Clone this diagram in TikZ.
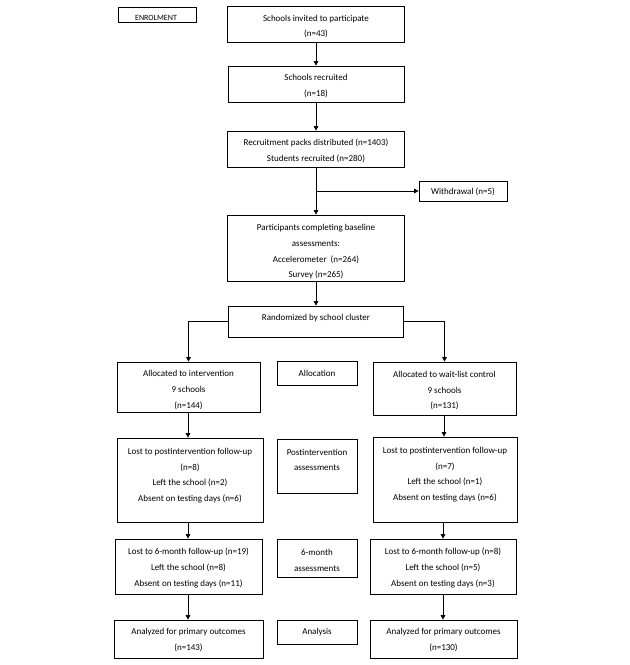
\documentclass[tikz,border=0pt]{standalone}
\usepackage{fontspec}
\setmainfont{Carlito}
\usetikzlibrary{arrows.meta}
\begin{document}
\begin{tikzpicture}[x=1pt,y=-1pt,
  box/.style={draw, line width=0.7pt, inner sep=0pt},
  txt/.style={align=center, inner sep=0pt, font=\fontsize{9}{15.7}\selectfont},
  arr/.style={line width=0.7pt, -{Triangle[length=4.5pt,width=4.5pt]}},
  ln/.style={line width=0.7pt}]
\useasboundingbox (0,0) rectangle (630,665);
\fill[white] (0,0) rectangle (630,665);

% ---- boxes ----
\node[box, minimum width=78pt,  minimum height=15pt] (enrol)    at (157,14.5) {};
\node[box, minimum width=177pt, minimum height=36pt] (invited)  at (316,24) {};
\node[box, minimum width=176pt, minimum height=36pt] (recruit)  at (316,84) {};
\node[box, minimum width=177pt, minimum height=36pt] (packs)    at (316,149) {};
\node[box, minimum width=88pt,  minimum height=20pt] (withdraw) at (463,191) {};
\node[box, minimum width=177pt, minimum height=66pt] (partic)   at (316,248) {};
\node[box, minimum width=175pt, minimum height=31pt] (rand)     at (316,321.5) {};

\node[box, minimum width=143pt, minimum height=50pt] (allocL) at (188.5,387) {};
\node[box, minimum width=80pt,  minimum height=24pt] (allocM) at (317,373) {};
\node[box, minimum width=143pt, minimum height=53pt] (allocR) at (444.5,388.5) {};

\node[box, minimum width=146pt, minimum height=84pt] (lostL) at (190,480) {};
\node[box, minimum width=80pt,  minimum height=54pt] (postM) at (317,466) {};
\node[box, minimum width=144pt, minimum height=85pt] (lostR) at (445,479.5) {};

\node[box, minimum width=147pt, minimum height=55pt] (sixL) at (188.5,566.5) {};
\node[box, minimum width=80pt,  minimum height=38pt] (sixM) at (317,558) {};
\node[box, minimum width=146pt, minimum height=55pt] (sixR) at (443,566.5) {};

\node[box, minimum width=149pt, minimum height=38pt] (anaL) at (188.5,639) {};
\node[box, minimum width=80pt,  minimum height=24pt] (anaM) at (317,632) {};
\node[box, minimum width=147pt, minimum height=38pt] (anaR) at (443.5,639) {};

% ---- texts ----
\node[txt, font=\fontsize{8}{9}\selectfont] (t-enrol) at (156,17.5) {ENROLMENT};
\node[txt] (t-invited) at (316,26.5) {Schools invited to participate\\(n=43)};
\node[txt] (t-recruit) at (316,86) {Schools recruited\\(n=18)};
\node[txt] (t-packs) at (316,151) {Recruitment packs distributed (n=1403)\\Students recruited (n=280)};
\node[txt] (t-withdraw) at (463,192) {Withdrawal (n=5)};
\node[txt] (t-partic) at (316,252) {Participants completing baseline\\assessments:\\Accelerometer~ (n=264)\\Survey (n=265)};
\node[txt] (t-rand) at (316,318) {Randomized by school cluster};

\node[txt] (t-allocL) at (188.5,390) {Allocated to intervention\\9 schools\\(n=144)};
\node[txt] (t-allocM) at (317,373) {Allocation};
\node[txt] (t-allocR) at (444.5,390.5) {Allocated to wait-list control\\9 schools\\(n=131)};

\node[txt] (t-lostL) at (190,475.5) {Lost to postintervention follow-up\\(n=8)\\Left the school (n=2)\\Absent on testing days (n=6)};
\node[txt] (t-postM) at (317,460) {Postintervention\\assessments};
\node[txt] (t-lostR) at (445,474.5) {Lost to postintervention follow-up\\(n=7)\\Left the school (n=1)\\Absent on testing days (n=6)};

\node[txt] (t-sixL) at (188.5,568) {Lost to 6-month follow-up (n=19)\\Left the school (n=8)\\Absent on testing days (n=11)};
\node[txt] (t-sixM) at (317,560.5) {6-month\\assessments};
\node[txt] (t-sixR) at (443,568) {Lost to 6-month follow-up (n=8)\\Left the school (n=5)\\Absent on testing days (n=3)};

\node[txt] (t-anaL) at (188.5,640) {Analyzed for primary outcomes\\(n=143)};
\node[txt] (t-anaM) at (317,632) {Analysis};
\node[txt] (t-anaR) at (443.5,640) {Analyzed for primary outcomes\\(n=130)};

% ---- connectors ----
\coordinate (colL) at (188,0);
\coordinate (colR) at (444,0);
\coordinate (colR2) at (443,0);
\coordinate (wb) at (316,191);

\draw[arr] (invited.south) -- (recruit.north);
\draw[arr] (recruit.south) -- (packs.north);
\draw[arr] (packs.south) -- (partic.north);
\draw[arr] (wb) -- (withdraw.west);
\draw[arr] (partic.south) -- (rand.north);
\draw[arr] (rand.west) -| (allocL.north);
\draw[arr] (rand.east) -| (allocR.north);

\draw[arr] (allocL.south -| colL) -- (lostL.north -| colL);
\draw[arr] (lostL.south -| colL) -- (sixL.north -| colL);
\draw[arr] (sixL.south -| colL) -- (anaL.north -| colL);

\draw[arr] (allocR.south -| colR) -- (lostR.north -| colR);
\draw[arr] (lostR.south -| colR2) -- (sixR.north -| colR2);
\draw[arr] (sixR.south -| colR2) -- (anaR.north -| colR2);
\end{tikzpicture}
\end{document}
